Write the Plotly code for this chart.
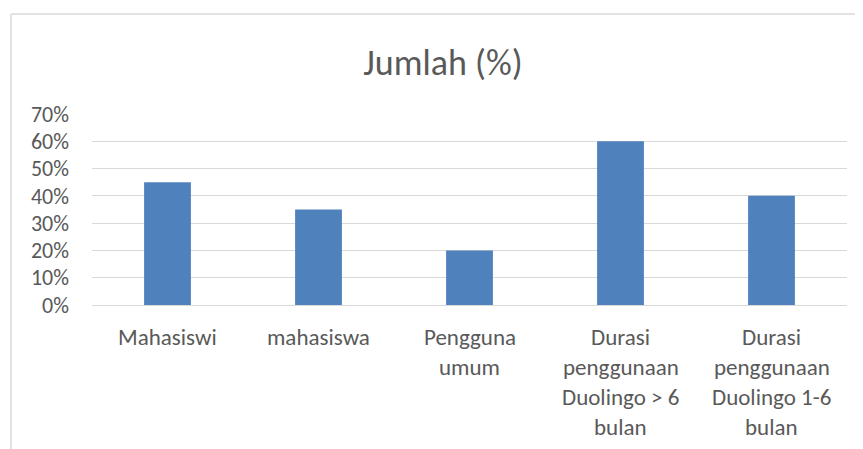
import plotly.graph_objects as go

categories = ["Mahasiswi", "mahasiswa", "Pengguna umum",
              "Durasi penggunaan Duolingo > 6 bulan",
              "Durasi penggunaan Duolingo 1-6 bulan"]
label_lines = [["Mahasiswi"], ["mahasiswa"], ["Pengguna", "umum"],
               ["Durasi", "penggunaan", "Duolingo > 6", "bulan"],
               ["Durasi", "penggunaan", "Duolingo 1-6", "bulan"]]
values = [0.45, 0.35, 0.20, 0.60, 0.40]
tick_vals = [0, 0.1, 0.2, 0.3, 0.4, 0.5, 0.6, 0.7]
tick_text = ["0%", "10%", "20%", "30%", "40%", "50%", "60%", "70%"]

# page body has an 8px margin; figure origin sits at (8, 8)
OFF = 8
W, H = 863 - OFF, 449 - OFF
L, T = 92 - OFF, 114 - OFF
R = W - (847 - OFF)
B = H - (305 - OFF)
FONT = "Carlito, Lato, sans-serif"
GRAY = "#595959"

fig = go.Figure(go.Bar(x=categories, y=values, marker_color="#4F81BD",
                       marker_line_width=0, width=0.31))

annotations = []
for cat, lines in zip(categories, label_lines):
    for i, ln in enumerate(lines):
        annotations.append(dict(x=cat, xref="x", y=0, yref="paper",
                                text=ln, showarrow=False,
                                yanchor="middle", yshift=-32 - 30 * i,
                                font=dict(family=FONT, size=23, color=GRAY)))

pw = W - L - R
ph = H - T - B
x0 = (11 - OFF - L) / pw
y_top = 1 + (T - (14 - OFF)) / ph
shapes = [
    dict(type="line", xref="paper", yref="paper", x0=x0, x1=(W - L + 10) / pw,
         y0=y_top, y1=y_top, line=dict(color="#D9D9D9", width=1.5)),
    dict(type="line", xref="paper", yref="paper", x0=x0, x1=x0,
         y0=y_top, y1=-(B + 10) / ph, line=dict(color="#D9D9D9", width=1.5)),
]

fig.update_layout(
    width=W, height=H,
    margin=dict(l=L, r=R, t=T, b=B),
    paper_bgcolor="white", plot_bgcolor="white",
    title=dict(text="Jumlah (%)", x=(443 - OFF) / W, xref="container",
               xanchor="center",
               y=1 - (62 - OFF) / H, yanchor="middle",
               font=dict(family=FONT, size=36, color=GRAY)),
    showlegend=False,
    annotations=annotations,
    shapes=shapes,
)
fig.update_xaxes(showticklabels=False, showgrid=False, showline=True,
                 linecolor="#D9D9D9", linewidth=1, ticks="")
fig.update_yaxes(range=[0, 0.7], tickvals=tick_vals, ticktext=tick_text,
                 showgrid=True, gridcolor="#D9D9D9", gridwidth=1,
                 zeroline=False, showline=False, ticks="",
                 ticklabelstandoff=22,
                 tickfont=dict(family=FONT, size=22, color=GRAY))

fig.write_html("out.html")
